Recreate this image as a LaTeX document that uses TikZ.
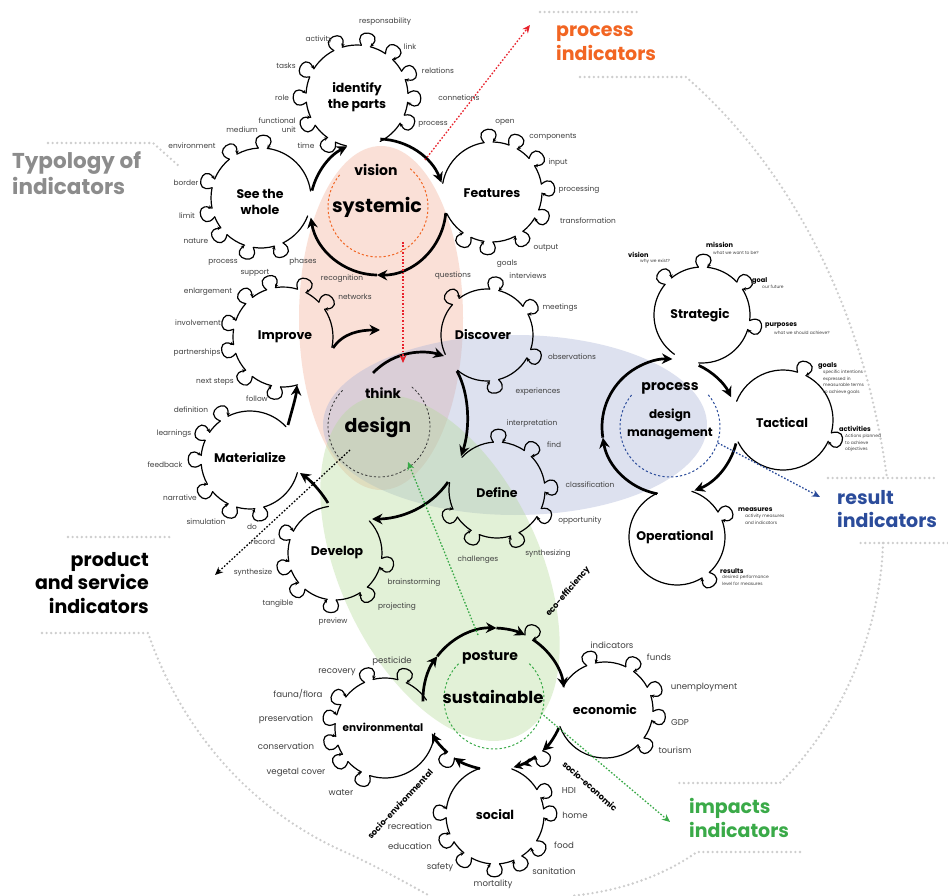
\documentclass[tikz,border=0pt]{standalone}
\usepackage{fontspec}
\setmainfont{Poppins}
\usetikzlibrary{arrows.meta}
\definecolor{dgray}{HTML}{404040}
\definecolor{porange}{HTML}{F26522}
\definecolor{pred}{HTML}{E8212B}
\definecolor{rblue}{HTML}{2B4C9B}
\definecolor{igreen}{HTML}{3AAA48}
\definecolor{typgray}{HTML}{8C8C8C}
\definecolor{bdot}{HTML}{CDCDCD}
\definecolor{pinkf}{HTML}{F2AA91}
\definecolor{bluef}{HTML}{AAB4D7}
\definecolor{greenf}{HTML}{B5DB98}
\tikzset{
  gl/.style={line width=1.2pt,black,line cap=round},
  ba/.style={-{Stealth[length=3.6pt,width=3.6pt]}},
  thk/.style={line width=2.7pt,-{Stealth[length=10.5pt,width=10.5pt,inset=3.5pt]}},
  thkdbl/.style={line width=2.7pt,-{Stealth[length=9pt,width=9pt,inset=3pt]Stealth[length=9pt,width=9pt,inset=3pt]}},
  lbl/.style={font=\fontsize{7.4}{8.5}\selectfont,text=dgray,inner sep=0pt},
  ttl/.style={font=\fontsize{12.5}{16}\selectfont\bfseries,align=center,inner sep=0pt},
  bigt/.style={font=\fontsize{19}{23.5}\selectfont\bfseries,inner sep=0pt},
  midt/.style={font=\fontsize{14}{16}\selectfont\bfseries,inner sep=0pt},
  mlab/.style={font=\fontsize{6.6}{7}\selectfont\bfseries,inner sep=0pt,anchor=west},
  mdesc/.style={font=\fontsize{4.4}{6.6}\selectfont,text=dgray,inner sep=0pt,anchor=north west,align=left},
  slab/.style={font=\fontsize{8.3}{9}\selectfont\bfseries,inner sep=0pt},
  huge/.style={font=\fontsize{19}{23.5}\selectfont\bfseries,inner sep=0pt,align=left,anchor=west},
  bnd/.style={bdot,line width=2.6pt,line cap=round,dash pattern=on 0pt off 4.6pt},
  dotarr/.style={line width=1.3pt,dash pattern=on 1.6pt off 1.8pt,-{Stealth[length=8pt,width=7pt]}},
}
\newcounter{lc}
\newcommand\lb[3][]{\stepcounter{lc}\node[lbl,#1] (l\arabic{lc}) at (#2) {#3};}
\newcommand\gbump[3]{%
  \pgfmathsetmacro\bd{4.5/#2*57.2958}%
  \pgfmathsetmacro\bc{17/(#2+19)*57.2958}%
  \draw[gl,ba,shift={(#1)}] (#3-\bd:#2) .. controls (#3-\bc:#2+19) and (#3+\bc:#2+19) .. (#3+\bd:#2);%
}
\newcommand\gear[5]{%
  \pgfmathsetmacro\gd{4.5/#2*57.2958}%
  \foreach \a [remember=\a as \gp (initially #3-\gd)] in {#5,#4} {%
    \pgfmathtruncatemacro\islast{abs(\a-(#4))<0.01 ? 1 : 0}%
    \ifnum\islast=1
      \draw[gl,shift={(#1)}] (\gp+\gd:#2) arc[start angle=\gp+\gd, end angle=#4, radius=#2];
    \else
      \draw[gl,shift={(#1)}] (\gp+\gd:#2) arc[start angle=\gp+\gd, end angle=\a-\gd, radius=#2];
      \gbump{#1}{#2}{\a}%
    \fi
  }%
}
\newcommand\carc[5]{\draw[#1,shift={(#2)}] (#4:#3) arc[start angle=#4,end angle=#5,radius=#3];}
\begin{document}
\begin{tikzpicture}[x=1pt,y=-1pt]
\useasboundingbox (0,0) rectangle (948,896);
\fill[white] (0,0) rectangle (948,896);
% coloured fields
\fill[pinkf,fill opacity=.36] (381,318) ellipse [x radius=82,y radius=172];
\fill[bluef,fill opacity=.40] (515,425) ellipse [x radius=192,y radius=90];
\fill[greenf,fill opacity=.38,rotate around={-65:(440,568)}] (440,568) ellipse [x radius=185,y radius=100];
% boundary dotted lines
\draw[bnd] (540,12) -- (640,12);
\draw[bnd] (580,77) -- (686,77) .. controls (770,150) and (860,280) .. (887,478);
\draw[bnd] (828,478) -- (935,478);
\draw[bnd] (948,543) -- (857,543);
\draw[bnd] (883,543) .. controls (880,640) and (835,730) .. (780,783) -- (675,783);
\draw[bnd] (800,852) -- (697,852) .. controls (660,878) and (615,892) .. (570,896);
\draw[bnd] (48,143) -- (153,143) -- (180,167);
\draw[bnd] (68,537) -- (173,537);
\draw[bnd] (42,633) -- (148,633) .. controls (185,740) and (260,815) .. (345,852) .. controls (380,868) and (410,885) .. (430,896);
% dashed inner circles
\draw[porange,line width=1pt,dash pattern=on 2.2pt off 2.2pt,shift={(378,207)}] (-50:50) arc[start angle=-50,end angle=220,radius=50];
\draw[black!80,line width=.8pt,dash pattern=on 2.2pt off 2.2pt,shift={(379,426)}] (-50:51) arc[start angle=-50,end angle=225,radius=51];
\draw[igreen,line width=1pt,dash pattern=on 2.2pt off 2.2pt,shift={(494,699)}] (-45:50) arc[start angle=-45,end angle=225,radius=50];
\draw[rblue,line width=1pt,dash pattern=on 2.2pt off 2.2pt,shift={(670,427)}] (-40:50) arc[start angle=-40,end angle=220,radius=50];
% gears
\gear{357,96}{51}{102}{423}{120,150,178,207,248,280,309,336,362,387}
\gear{261,198}{50}{21}{352}{69,104,138,163,197,236,272}
\gear{492,192}{50}{190}{514}{266,295,323,356,386,417,454,480}
\gear{283,337}{50}{73}{372}{98,133,166,194,227,256,292,321}
\gear{487,335}{46}{155}{490}{227,279,327,384,441}
\gear{497,490}{48}{223}{549}{271,310,357,388,428,477,511}
\gear{250,460}{49}{15}{317}{79,111,145,180,209,238}
\gear{335,553}{47}{-43}{262}{12,52,94,135,164,202}
\gear{385,728}{50}{6}{326}{113,143,165,190,213,251,290}
\gear{605,710}{48}{209}{520}{253,301,337,367,401}
\gear{495,815}{49}{-70}{252}{-26,-2,37,62,90,124,152,182}
\gear{702,315}{48}{125}{454}{225,271,322,372}
\gear{783,420}{50}{202}{514}{292,380}
\gear{677,537}{48}{-72}{246}{-26,53}
% systemic cycle
\carc{thk}{378,207}{68}{194}{243}
\carc{thk}{378,207}{68}{272}{339}
\carc{thk}{378,207}{68}{5}{91}
\carc{thk}{378,207}{68}{91}{171}
% management cycle
\carc{thk}{670,427}{68}{101}{171}
\carc{thk}{670,427}{68}{171}{272}
\carc{thk}{670,427}{68}{295}{334}
\carc{thk}{670,427}{68}{14}{69}
% sustainable cycle
\carc{thk}{494,699}{71}{178}{217}
\carc{thk}{494,699}{71}{217}{272}
\carc{thk}{494,699}{71}{272}{296}
\gbump{494,699}{71}{299.5}
\carc{thk}{494,699}{71}{303}{351}
\carc{thk}{494,699}{71}{24}{47}
\gbump{494,699}{71}{50.5}
\carc{thkdbl}{494,699}{71}{54}{74}
\carc{thk}{494,699}{71}{101.5}{124}
\gbump{494,699}{71}{127.5}
\carc{thk}{494,699}{71}{131}{151}
% design cycle
\coordinate (d1a) at (333,348); \coordinate (d1b) at (380,330);
\coordinate (d2a) at (373,373); \coordinate (d2b) at (444,356);
\coordinate (d3a) at (457,371); \coordinate (d3b) at (461,456);
\coordinate (d4a) at (448,482); \coordinate (d4b) at (372,519);
\coordinate (d5a) at (328,503); \coordinate (d5b) at (300,473);
\coordinate (d6a) at (288,425); \coordinate (d6b) at (297,385);
\draw[thk] (d1a) .. controls (343,333) and (360,330) .. (d1b);
\draw[thk] (d2a) .. controls (395,350) and (425,350) .. (d2b);
\draw[thk] (d3a) .. controls (470,395) and (470,430) .. (d3b);
\draw[thk] (d4a) .. controls (430,508) and (400,519) .. (d4b);
\draw[thk] (d5a) .. controls (320,490) and (310,480) .. (d5b);
\draw[thk] (d6a) .. controls (292,410) and (296,397) .. (d6b);
% indicator arrows
\coordinate (r1a) at (425,160); \coordinate (r1b) at (530,25);
\coordinate (r2a) at (403,242); \coordinate (r2b) at (403,363);
\coordinate (k1a) at (350,450); \coordinate (k1b) at (215,575);
\coordinate (g1a) at (478,635); \coordinate (g1b) at (408,462);
\coordinate (g2a) at (541,713); \coordinate (g2b) at (670,822);
\coordinate (b1a) at (718,443); \coordinate (b1b) at (820,497);
\draw[dotarr,pred] (r1a) -- (r1b);
\draw[dotarr,pred] (r2a) -- (r2b);
\draw[dotarr,black] (k1a) -- (k1b);
\draw[dotarr,igreen] (g1a) -- (g1b);
\draw[dotarr,igreen] (g2a) -- (g2b);
\draw[dotarr,rblue] (b1a) -- (b1b);
% centre texts
\node[midt] (vis) at (376,170) {vision};
\node[bigt] (sys) at (377,207) {systemic};
\node[midt,font=\fontsize{13.5}{15}\selectfont\bfseries] (thk1) at (383,393) {think};
\node[bigt] (des) at (378,428) {design};
\node[midt] (pos) at (490,657) {posture};
\node[bigt,font=\fontsize{16.5}{18}\selectfont\bfseries] (sus) at (493,697) {sustainable};
\node[midt] (pro) at (670,388) {process};
\node[ttl,font=\fontsize{12}{18}\selectfont\bfseries] (dm) at (670,424) {design\\management};
% gear titles
\node[ttl] (g1) at (357,97) {identify\\the parts};
\node[ttl] (g2) at (260,202) {See the\\whole};
\node[ttl] (g3) at (492,193) {Features};
\node[ttl] (g4) at (285,337) {Improve};
\node[ttl] (g5) at (483,335) {Discover};
\node[ttl] (g6) at (497,493) {Define};
\node[ttl] (g7) at (250,458) {Materialize};
\node[ttl] (g8) at (337,553) {Develop};
\node[ttl,font=\fontsize{10.5}{12}\selectfont\bfseries] (g9) at (383,727) {environmental};
\node[ttl] (g10) at (605,710) {economic};
\node[ttl] (g11) at (495,815) {social};
\node[ttl] (g12) at (700,315) {Strategic};
\node[ttl] (g13) at (782,423) {Tactical};
\node[ttl] (g14) at (675,537) {Operational};
% identify labels
\lb{319,40}{activity}
\lb{385,22}{responsability}
\lb{410,47}{link}
\lb{438,71}{relations}
\lb{459,98}{connetions}
\lb{433,124}{process}
\lb{306,146}{time}
\lb[anchor=east,align=right,font=\fontsize{7.4}{9}\selectfont]{296,125}{functional\\unit}
\lb{282,98}{role}
\lb{286,66}{tasks}
% see the whole
\lb{242,130}{medium}
\lb{192,146}{environment}
\lb{186,183}{border}
\lb{187,216}{limit}
\lb{196,241}{nature}
\lb{223,262}{process}
\lb{303,262}{phases}
% features
\lb{505,122}{open}
\lb{553,137}{components}
\lb{558,163}{input}
\lb{579,190}{processing}
\lb{588,221}{transformation}
\lb{546,248}{output}
\lb{507,264}{goals}
% improve
\lb{255,273}{support}
\lb{208,292}{enlargement}
\lb{198,323}{involvement}
\lb{197,353}{partnerships}
\lb{215,382}{next steps}
\lb{257,399}{follow}
\lb{342,279}{recognition}
\lb{355,297}{networks}
% discover
\lb{453,276}{questions}
\lb{528,276}{interviews}
\lb{560,308}{meetings}
\lb{572,357}{observations}
\lb{538,392}{experiences}
% define
\lb{532,424}{interpretation}
\lb{554,445}{find}
\lb{590,485}{classification}
\lb{580,521}{opportunity}
\lb{548,554}{synthesizing}
\lb{478,560}{challenges}
% materialize
\lb{191,410}{definition}
\lb{174,434}{learnings}
\lb{165,465}{feedback}
\lb{180,498}{narrative}
\lb{206,522}{simulation}
\lb{252,527}{do}
% develop
\lb{263,542}{record}
\lb{253,573}{synthesize}
\lb{278,604}{tangible}
\lb{333,622}{preview}
\lb{397,607}{projecting}
\lb{414,583}{brainstorming}
% environmental
\lb[font=\fontsize{8.6}{9}\selectfont]{337,672}{recovery}
\lb[font=\fontsize{8.6}{9}\selectfont]{392,661}{pesticide}
\lb[font=\fontsize{8.6}{9}\selectfont]{298,694}{fauna/flora}
\lb[font=\fontsize{8.6}{9}\selectfont]{286,719}{preservation}
\lb[font=\fontsize{8.6}{9}\selectfont]{286,746}{conservation}
\lb[font=\fontsize{8.6}{9}\selectfont]{296,772}{vegetal cover}
\lb[font=\fontsize{8.6}{9}\selectfont]{341,793}{water}
% economic
\lb[font=\fontsize{8.6}{9}\selectfont]{612,645}{indicators}
\lb[font=\fontsize{8.6}{9}\selectfont]{659,657}{funds}
\lb[font=\fontsize{8.6}{9}\selectfont]{704,687}{unemployment}
\lb[font=\fontsize{8.6}{9}\selectfont]{680,722}{GDP}
\lb[font=\fontsize{8.6}{9}\selectfont]{675,750}{tourism}
% social
\lb[font=\fontsize{8.6}{9}\selectfont]{569,790}{HDI}
\lb[font=\fontsize{8.6}{9}\selectfont]{575,815}{home}
\lb[font=\fontsize{8.6}{9}\selectfont]{564,845}{food}
\lb[font=\fontsize{8.6}{9}\selectfont]{554,871}{sanitation}
\lb[font=\fontsize{8.6}{9}\selectfont]{493,884}{mortality}
\lb[font=\fontsize{8.6}{9}\selectfont]{440,867}{safety}
\lb[font=\fontsize{8.6}{9}\selectfont]{410,846}{education}
\lb[font=\fontsize{8.6}{9}\selectfont]{410,826}{recreation}
% rotated labels
\node[slab,rotate=47] (se) at (400,804) {socio-environmental};
\node[slab,rotate=-42] (sc) at (590,786) {socio-economic};
\node[slab,rotate=49] (ee) at (568,592) {eco-efficiency};
% management labels
\node[mlab] (m1) at (628,255) {vision};
\node[mdesc] (m1d) at (640,259) {why we exist?};
\node[mlab] (m2) at (706,245) {mission};
\node[mdesc] (m2d) at (713,251) {what we want to be?};
\node[mlab] (m3) at (752,281) {goal};
\node[mdesc] (m3d) at (762,285) {our future};
\node[mlab] (m4) at (765,326) {purposes};
\node[mdesc] (m4d) at (774,331) {what we should achieve?};
\node[mlab] (m5) at (818,366) {goals};
\node[mdesc] (m5d) at (823,370) {specific intentions\\expressed in\\measurable terms\\to achieve goals};
\node[mlab] (m6) at (839,429) {activities};
\node[mdesc] (m6d) at (845,434) {Actions planned\\to achieve\\objectives};
\node[mlab] (m7) at (738,510) {measures};
\node[mdesc] (m7d) at (745,514) {activity measures\\and indicators};
\node[mlab] (m8) at (720,571) {results};
\node[mdesc] (m8d) at (722,575) {desired performance\\level for measures};
% indicator headings
\node[huge,text=typgray,font=\fontsize{21.5}{26.5}\selectfont\bfseries] (typ) at (12,173) {Typology of\\indicators};
\node[huge,text=porange] (pind) at (556,43) {process\\indicators};
\node[huge,text=rblue] (rind) at (837,509) {result\\indicators};
\node[huge,text=igreen] (iind) at (689,818) {impacts\\indicators};
\node[huge,anchor=east,align=right] (psi) at (149,583) {product\\and service\\indicators};
\end{tikzpicture}
\end{document}
